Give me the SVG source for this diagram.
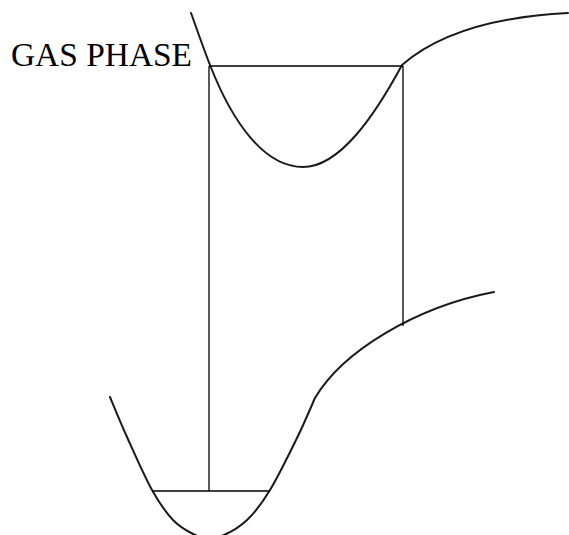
<svg xmlns="http://www.w3.org/2000/svg" width="569" height="535" viewBox="0 0 569 535">
<style>
.curve{fill:none;stroke:#1a1a1a;stroke-width:2;stroke-linejoin:round;stroke-linecap:round}
.line{fill:none;stroke:#000;stroke-width:1.3}
.label{font-family:"Liberation Serif","DejaVu Serif",serif;font-size:34px;fill:#000}
</style>
<rect width="569" height="535" fill="#fff"/>
<g id="label-gas-phase">
<text class="label" x="11" y="66" textLength="181" lengthAdjust="spacingAndGlyphs">GAS PHASE</text>
</g>
<g id="curve-gas-phase">
<path class="curve" d="M191,13 C194,21 204,50 210,65 C233,124 265,167 303,167 C340,167 375,115 402,65 C425,45 470,18 568,13"/>
</g>
<g id="curve-surface">
<path class="curve" d="M110,397 C112.8,403.7 120,421.5 127,437 C134,452.5 144.3,476.2 152,490 C159.7,503.8 166.2,512.8 173,520 C179.8,527.2 187,531 194,534.5 C200,537.5 204,538 209,538 C214,538 218,537.5 224,535 C231,532 239.2,527.3 247,520 C254.8,512.7 261.7,503.7 270,490 C278.3,476.3 289.5,453.3 297,438 C304.5,422.7 312,404.7 315,398 C342,352 415,307 494,292"/>
</g>
<g id="connectors">
<line class="line" x1="209" y1="66" x2="403" y2="66"/>
<line class="line" x1="209" y1="66" x2="209" y2="491"/>
<line class="line" x1="403" y1="66" x2="403" y2="326"/>
<line class="line" x1="152" y1="491" x2="270" y2="491"/>
</g>
</svg>
